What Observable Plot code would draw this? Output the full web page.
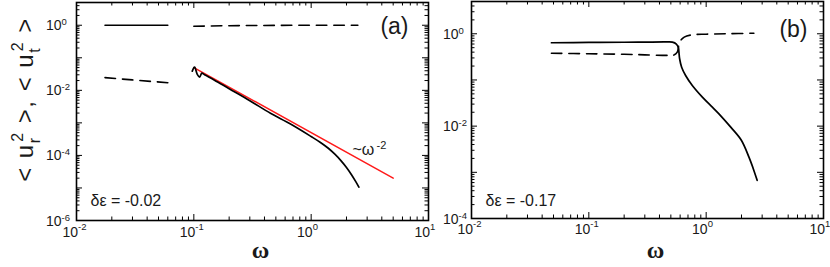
<!DOCTYPE html>
<html><head><meta charset="utf-8">
<script src="https://cdn.jsdelivr.net/npm/d3@7"></script>
<script src="https://cdn.jsdelivr.net/npm/@observablehq/plot@0.6"></script>
<style>
body{margin:0;background:#fff;}
#wrap{position:relative;width:830px;height:267px;overflow:hidden;background:#fff;}
#wrap svg{position:absolute;top:0;}
</style></head><body><div id="wrap"></div>
<script>
// ---------- data ----------
// panel (a), δε = -0.02
const omegaA_urLow = [0.0175, 0.06];
const urA_low      = [1.0, 1.0];
const omegaA_utLow = [0.0175, 0.03, 0.06];
const utA_low      = [0.0245, 0.0209, 0.0171];
const omegaA_urHigh = [0.097, 0.1015, 0.107, 0.112, 0.117, 0.1235, 0.15, 0.2, 0.3, 0.45, 0.667, 1.0, 1.2, 1.4, 1.6, 1.8, 2.0, 2.2, 2.4, 2.55];
const urA_high      = [0.039, 0.0515, 0.031, 0.0254, 0.0337, 0.030, 0.0205, 0.0112, 0.0048, 0.00197, 0.00092, 0.00038, 0.00025, 0.000166, 0.000107, 6.8e-5, 4.25e-5, 2.6e-5, 1.56e-5, 1.06e-5];
const omegaA_utHigh = [0.1, 0.2, 0.5, 1.0, 2.5];
const utA_high      = [0.93, 0.97, 0.99, 1.0, 1.0];
const omegaA_fit = [0.1, 5];
const fitA       = [0.05, 2e-5];
// panel (b), δε = -0.17
const omegaB_ur = [0.048, 0.1, 0.2, 0.3, 0.45, 0.515, 0.557, 0.58, 0.586, 0.594, 0.618, 0.668, 0.762, 0.928, 1.129, 1.285, 1.62, 2.0, 2.32, 2.55, 2.72];
const urB       = [0.64, 0.65, 0.655, 0.66, 0.665, 0.66, 0.6, 0.5, 0.4, 0.288, 0.189, 0.125, 0.076, 0.0425, 0.0258, 0.0185, 0.0095, 0.0049, 0.0021, 0.0011, 0.00067];
const omegaB_ut = [0.048, 0.1, 0.2, 0.3, 0.47, 0.53, 0.567, 0.594, 0.65, 0.76, 1.0, 1.5, 2.55];
const utB       = [0.38, 0.37, 0.36, 0.35, 0.34, 0.345, 0.40, 0.66, 0.845, 0.95, 0.98, 1.0, 1.03];
// ticks
const xTicks   = [0.01, 0.1, 1, 10];
const xTickExp = ["-2", "-1", "0", "1"];
const yTicksA   = [1e-6, 1e-4, 1e-2, 1];
const yTickExpA = ["-6", "-4", "-2", "0"];
const yTicksB   = [1e-4, 1e-2, 1];
const yTickExpB = ["-4", "-2", "0"];
const xDomain  = [0.01, 10];
const yDomainA = [1e-6, 5];
const yDomainB = [1e-4, 5];

// ---------- helpers ----------
const pts = (xs, ys) => xs.map((w, i) => ({w, v: ys[i]}));
function majorLog(lo, hi) { const o = []; for (let e = Math.ceil(Math.log10(lo) - 1e-9); e <= Math.floor(Math.log10(hi) + 1e-9); e++) o.push(Math.pow(10, e)); return o; }
function minorLog(lo, hi) { const o = []; for (let e = Math.floor(Math.log10(lo)); e <= Math.ceil(Math.log10(hi)); e++) for (let k = 2; k <= 9; k++) { const v = k * Math.pow(10, e); if (v > lo * 1.0001 && v < hi * 0.9999) o.push(v); } return o; }

const FONT = "Liberation Sans, Arial, Helvetica, sans-serif";
const INK = "#1a1a1a";
const DASH = "10.5,7";

function panel(o) {
  const H = 267;
  const fh = H - o.mt - o.mb, fw = o.width - o.ml - o.mr;
  const xMaj = majorLog(...xDomain), xMin = minorLog(...xDomain);
  const yMaj = majorLog(...o.yDomain), yMin = minorLog(...o.yDomain);
  const M = 6, m = 3.5;
  const yIdx = o.yTicks.map((d, i) => i);
  const xIdx = xTicks.map((d, i) => i);
  const marks = [
    Plot.tickX(xMaj, {x: d => d, insetTop: fh - M, stroke: "#000"}),
    Plot.tickX(xMaj, {x: d => d, insetBottom: fh - M, stroke: "#000"}),
    Plot.tickX(xMin, {x: d => d, insetTop: fh - m, stroke: "#000"}),
    Plot.tickX(xMin, {x: d => d, insetBottom: fh - m, stroke: "#000"}),
    Plot.tickY(yMaj, {y: d => d, insetRight: fw - M, stroke: "#000"}),
    Plot.tickY(yMaj, {y: d => d, insetLeft: fw - M, stroke: "#000"}),
    Plot.tickY(yMin, {y: d => d, insetRight: fw - m, stroke: "#000"}),
    Plot.tickY(yMin, {y: d => d, insetLeft: fw - m, stroke: "#000"}),
    ...o.series,
    Plot.frame({stroke: "#000", strokeWidth: 1.6}),
    // x tick labels
    Plot.text(xIdx, {x: i => xTicks[i], frameAnchor: "bottom", text: () => "10", textAnchor: "end", lineAnchor: "bottom", dx: 1.5, dy: o.xBase, fontSize: 14, fill: INK}),
    Plot.text(xIdx, {x: i => xTicks[i], frameAnchor: "bottom", text: i => xTickExp[i], textAnchor: "start", lineAnchor: "bottom", dx: 1.5, dy: o.xBase - 7, fontSize: 9.5, fill: INK}),
    // y tick labels
    Plot.text(yIdx, {y: i => o.yTicks[i], frameAnchor: "left", text: () => "10", textAnchor: "end", lineAnchor: "bottom", dx: o.yDx, dy: 5, fontSize: 14, fill: INK}),
    Plot.text(yIdx, {y: i => o.yTicks[i], frameAnchor: "left", text: i => o.yExp[i], textAnchor: "start", lineAnchor: "bottom", dx: o.yDx, dy: 0, fontSize: 9.5, fill: INK}),
    // panel tag
    Plot.text([o.tag], {frameAnchor: "top-right", text: d => d, textAnchor: "end", lineAnchor: "top", dx: o.tagDx, dy: o.tagDy, fontSize: 23, fill: INK}),
    // δε
    Plot.text([o.eps], {frameAnchor: "bottom-left", text: d => d, textAnchor: "start", lineAnchor: "bottom", dx: 14, dy: o.epsDy, fontSize: 16, fill: INK}),
    // ω axis label
    Plot.text(["ω"], {frameAnchor: "bottom", text: d => d, lineAnchor: "bottom", dx: 8, dy: o.omegaDy, fontSize: 24, fontWeight: "bold", fontFamily: "Liberation Serif, Times New Roman, serif", fill: INK}),
    ...(o.extra || [])
  ];
  return Plot.plot({
    width: o.width, height: H,
    marginLeft: o.ml, marginRight: o.mr, marginTop: o.mt, marginBottom: o.mb,
    x: {type: "log", domain: xDomain, axis: null},
    y: {type: "log", domain: o.yDomain, axis: null},
    style: {background: "transparent", fontFamily: FONT, overflow: "visible"},
    marks
  });
}

const svgA = panel({
  width: 430, ml: 76, mr: 2, mt: 2, mb: 47,
  yDomain: yDomainA, yTicks: yTicksA, yExp: yTickExpA,
  xBase: 16.5, yDx: -15, tag: "(a)", tagDx: -20, tagDy: 15,
  eps: "δε = -0.02", epsDy: -15, omegaDy: 37.5,
  series: [
    Plot.line(pts(omegaA_urLow, urA_low), {x: "w", y: "v", stroke: "#000", strokeWidth: 1.6}),
    Plot.line(pts(omegaA_utLow, utA_low), {x: "w", y: "v", stroke: "#000", strokeWidth: 1.6, strokeDasharray: DASH}),
    Plot.line(pts(omegaA_utHigh, utA_high), {x: "w", y: "v", stroke: "#000", strokeWidth: 1.6, strokeDasharray: DASH}),
    Plot.line(pts(omegaA_fit, fitA), {x: "w", y: "v", stroke: "#ff1a1a", strokeWidth: 1.5}),
    Plot.line(pts(omegaA_urHigh, urA_high), {x: "w", y: "v", stroke: "#000", strokeWidth: 1.7, curve: "catmull-rom"})
  ],
  extra: [
    Plot.text(["~ω"], {x: 2.25, y: 1e-4, text: d => d, textAnchor: "start", lineAnchor: "bottom", fontSize: 16, fill: INK}),
    Plot.text(["-2"], {x: 2.25, y: 1e-4, text: d => d, textAnchor: "start", lineAnchor: "bottom", dx: 24, dy: -6, fontSize: 11, fill: INK})
  ]
});

const svgB = panel({
  width: 410, ml: 51, mr: 7, mt: 1, mb: 49,
  yDomain: yDomainB, yTicks: yTicksB, yExp: yTickExpB,
  xBase: 15.5, yDx: -13, tag: "(b)", tagDx: -16, tagDy: 19,
  eps: "δε = -0.17", epsDy: -13, omegaDy: 39.5,
  series: [
    Plot.line(pts(omegaB_ut, utB), {x: "w", y: "v", stroke: "#000", strokeWidth: 1.6, strokeDasharray: DASH, curve: "catmull-rom"}),
    Plot.line(pts(omegaB_ur, urB), {x: "w", y: "v", stroke: "#000", strokeWidth: 1.7, curve: "catmull-rom"})
  ]
});

svgA.style.left = "0px";
svgB.style.left = "420px";
const wrap = document.getElementById("wrap");
wrap.appendChild(svgA);
wrap.appendChild(svgB);

// y axis title with sub/superscripts
const t = d3.select(svgA).append("text")
  .attr("transform", "translate(33,99.5) rotate(-90)")
  .attr("text-anchor", "middle")
  .attr("font-family", FONT)
  .attr("font-size", 24)
  .attr("fill", INK)
  .style("white-space", "pre")
  .attr("letter-spacing", 1.5);
t.append("tspan").text("< u");
t.append("tspan").attr("font-size", 16).attr("dy", 7).text("r");
t.append("tspan").attr("font-size", 16).attr("dx", -5.3).attr("dy", -17).text("2");
t.append("tspan").attr("dy", 10).text(" >, < u");
t.append("tspan").attr("font-size", 16).attr("dy", 7).text("t");
t.append("tspan").attr("font-size", 16).attr("dx", -4.4).attr("dy", -17).text("2");
t.append("tspan").attr("dy", 10).text(" >");
</script></body></html>
